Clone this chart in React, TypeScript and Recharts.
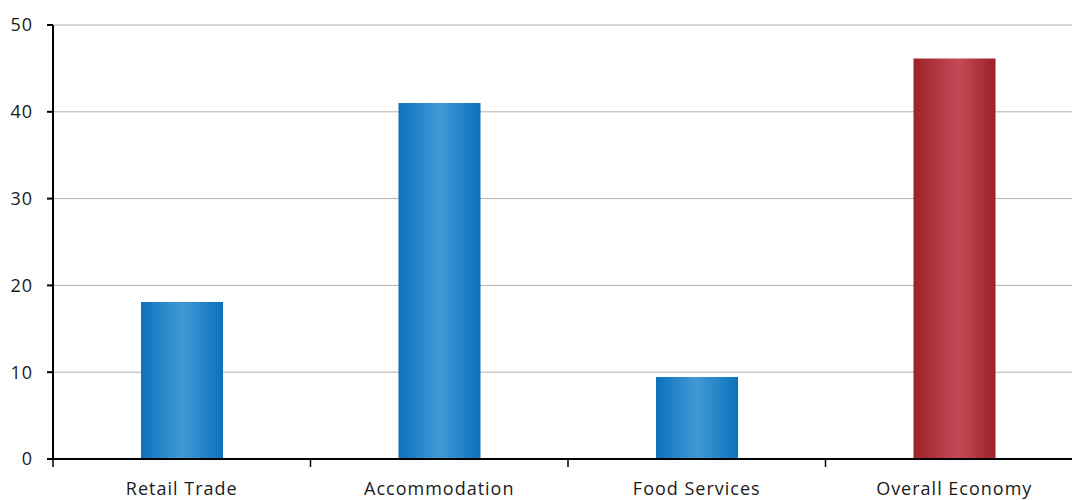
import React from "react";
import { BarChart, Bar, XAxis, YAxis, CartesianGrid, Cell } from "recharts";

const categories = ["Retail Trade", "Accommodation", "Food Services", "Overall Economy"];
const values = [18.1, 41.0, 9.45, 46.15];
const yTicks = [0, 10, 20, 30, 40, 50];
const fills = ["url(#blueBar)", "url(#blueBar)", "url(#blueBar)", "url(#redBar)"];

const data = categories.map((name, i) => ({ name, value: values[i] }));

const W = 1090;
const H = 500;
const MARGIN = { top: 25, right: 7, left: 0, bottom: 0 };
const Y_W = 53;
const BAND = (W - MARGIN.right - Y_W) / categories.length;
const FONT = "'Open Sans', Roboto, sans-serif";

function XTick(props: any) {
  const { x, y, payload, index } = props;
  const left = x - BAND / 2;
  return (
    <g>
      <line x1={left} x2={left} y1={y - 8} y2={y} stroke="#000" strokeWidth={1.5} />
      {index === categories.length - 1 && (
        <line x1={x + BAND / 2} x2={x + BAND / 2} y1={y - 8} y2={y} stroke="#000" strokeWidth={1.5} />
      )}
      <text
        x={x}
        y={y + 15}
        dy="0.71em"
        textAnchor="middle"
        fontSize={18}
        letterSpacing={1}
        fill="#1a1a1a"
        fontFamily={FONT}
      >
        {payload.value}
      </text>
    </g>
  );
}

export default function App() {
  return (
    <div style={{ position: "fixed", left: 0, top: 0, width: 1072, height: 500, overflow: "hidden", background: "#fff" }}>
      <BarChart width={W} height={H} data={data} margin={MARGIN}>
        <defs>
          <linearGradient id="blueBar" x1="0" y1="0" x2="1" y2="0">
            <stop offset="0%" stopColor="#0a72bd" />
            <stop offset="50%" stopColor="#4399d5" />
            <stop offset="100%" stopColor="#0a72bd" />
          </linearGradient>
          <linearGradient id="redBar" x1="0" y1="0" x2="1" y2="0">
            <stop offset="0%" stopColor="#9a2228" />
            <stop offset="55%" stopColor="#c44a58" />
            <stop offset="100%" stopColor="#9a2228" />
          </linearGradient>
        </defs>
        <CartesianGrid vertical={false} stroke="#b0b0b0" strokeWidth={1} />
        <XAxis
          dataKey="name"
          height={41}
          axisLine={{ stroke: "#000", strokeWidth: 2 }}
          tickLine={false}
          tick={<XTick />}
          interval={0}
        />
        <YAxis
          width={Y_W}
          domain={[0, 50]}
          ticks={yTicks}
          axisLine={{ stroke: "#000", strokeWidth: 2 }}
          tickLine={{ stroke: "#000", strokeWidth: 2 }}
          tickSize={6}
          tickMargin={14}
          tick={{ fontSize: 18, fill: "#1a1a1a", fontFamily: FONT, letterSpacing: 1 }}
        />
        <Bar dataKey="value" barSize={82} isAnimationActive={false}>
          {data.map((d, i) => (
            <Cell key={d.name} fill={fills[i]} />
          ))}
        </Bar>
      </BarChart>
    </div>
  );
}
